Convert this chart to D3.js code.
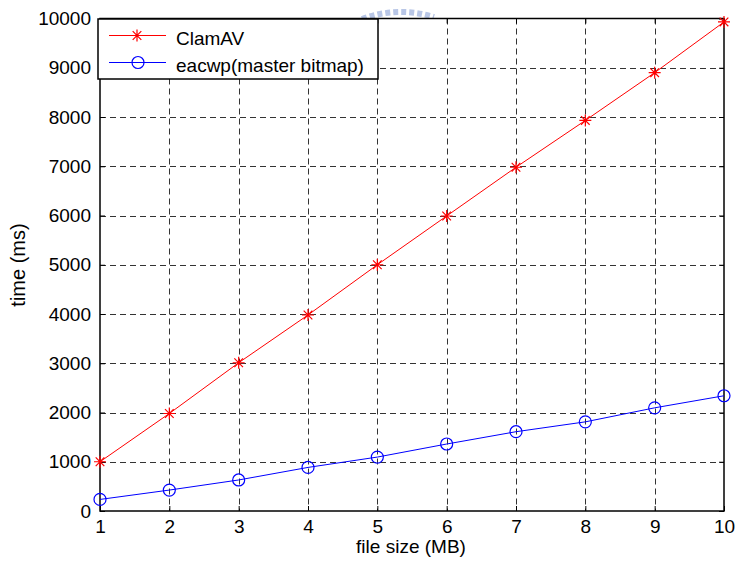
<!DOCTYPE html>
<html>
<head>
<meta charset="utf-8">
<script src="https://cdn.jsdelivr.net/npm/d3@7"></script>
<style>
  body { margin: 0; background: #fff; }
  svg { display: block; }
  text { font-family: "Liberation Sans", Arial, sans-serif; fill: #000; }
</style>
</head>
<body>
<script>
// data
var fileSizes = [1, 2, 3, 4, 5, 6, 7, 8, 9, 10];
var clamav = [1000, 1980, 3010, 3980, 5000, 5990, 6980, 7930, 8900, 9930];
var eacwp = [235, 425, 630, 885, 1095, 1360, 1610, 1810, 2095, 2340];
var yTicks = [0, 1000, 2000, 3000, 4000, 5000, 6000, 7000, 8000, 9000, 10000];
var seriesNames = ['ClamAV', 'eacwp(master bitmap)'];
// end data

var width = 736, height = 565;
var plotLeft = 100, plotRight = 724, plotTop = 18.5, plotBottom = 511;
var fontSize = '19px';

var svg = d3.select('body').append('svg')
    .attr('width', width)
    .attr('height', height);

// faint watermark fragment at the top edge
svg.append('path')
    .attr('d', 'M362,19 Q398,6 434,17')
    .attr('fill', 'none')
    .attr('stroke', '#b8c6e6')
    .attr('stroke-width', 6)
    .attr('stroke-dasharray', '5,3');

var x = d3.scaleLinear().domain([1, 10]).range([plotLeft, plotRight]);
var y = d3.scaleLinear().domain([0, 10000]).range([plotBottom, plotTop]);

// background of plot
svg.append('rect')
    .attr('x', plotLeft).attr('y', plotTop)
    .attr('width', plotRight - plotLeft).attr('height', plotBottom - plotTop)
    .attr('fill', '#fff');

// grid
var gGrid = svg.append('g').attr('class', 'grid');
gGrid.selectAll('line.vx')
    .data(fileSizes.slice(1, -1))
    .enter().append('line')
    .attr('x1', function (d) { return Math.round(x(d)) + 0.5; })
    .attr('x2', function (d) { return Math.round(x(d)) + 0.5; })
    .attr('y1', plotTop).attr('y2', plotBottom)
    .attr('stroke', '#333')
    .attr('stroke-dasharray', '6,4');
gGrid.selectAll('line.hy')
    .data(yTicks.slice(1, -1))
    .enter().append('line')
    .attr('y1', function (d) { return Math.round(y(d)) + 0.5; })
    .attr('y2', function (d) { return Math.round(y(d)) + 0.5; })
    .attr('x1', plotLeft).attr('x2', plotRight)
    .attr('stroke', '#333')
    .attr('stroke-dasharray', '6,4');

// axes
var xAxis = d3.axisBottom(x).tickValues(fileSizes).tickSize(-5).tickPadding(9).tickFormat(d3.format('d'));
var yAxis = d3.axisLeft(y).tickValues(yTicks).tickSize(-5).tickPadding(9).tickFormat(d3.format('d'));
var xAxisTop = d3.axisTop(x).tickValues(fileSizes).tickSize(-5).tickFormat('');
var yAxisRight = d3.axisRight(y).tickValues(yTicks).tickSize(-5).tickFormat('');

function styleAxis(g) {
    g.select('.domain').remove();
    g.selectAll('line').attr('stroke', '#000');
    g.selectAll('text').style('font-size', fontSize).style('font-family', '"Liberation Sans", Arial, sans-serif');
}
svg.append('g').attr('transform', 'translate(0,' + plotBottom + ')').call(xAxis).call(styleAxis);
svg.append('g').attr('transform', 'translate(' + plotLeft + ',0)').call(yAxis).call(styleAxis);
svg.append('g').attr('transform', 'translate(0,' + plotTop + ')').call(xAxisTop).call(styleAxis);
svg.append('g').attr('transform', 'translate(' + plotRight + ',0)').call(yAxisRight).call(styleAxis);

// box
svg.append('rect')
    .attr('x', plotLeft).attr('y', plotTop)
    .attr('width', plotRight - plotLeft).attr('height', plotBottom - plotTop)
    .attr('fill', 'none')
    .attr('stroke', '#000')
    .attr('stroke-width', 1.5);

// lines
var lineFunc = function (vals) {
    return d3.line()
        .x(function (d, i) { return x(fileSizes[i]); })
        .y(function (d) { return y(d); })(vals);
};
svg.append('path')
    .attr('d', lineFunc(clamav))
    .attr('fill', 'none')
    .attr('stroke', '#ff0000')
    .attr('stroke-width', 1);
svg.append('path')
    .attr('d', lineFunc(eacwp))
    .attr('fill', 'none')
    .attr('stroke', '#0000ff')
    .attr('stroke-width', 1);

function star(g, cx, cy, r, color) {
    var a = r * 0.72;
    g.append('path')
        .attr('d', 'M' + (cx - r) + ',' + cy + 'L' + (cx + r) + ',' + cy +
            'M' + cx + ',' + (cy - r) + 'L' + cx + ',' + (cy + r) +
            'M' + (cx - a) + ',' + (cy - a) + 'L' + (cx + a) + ',' + (cy + a) +
            'M' + (cx - a) + ',' + (cy + a) + 'L' + (cx + a) + ',' + (cy - a))
        .attr('stroke', color)
        .attr('stroke-width', 1.2)
        .attr('fill', 'none');
}

var gStars = svg.append('g');
clamav.forEach(function (d, i) { star(gStars, x(fileSizes[i]), y(d), 6, '#ff0000'); });

svg.append('g').selectAll('circle')
    .data(eacwp)
    .enter().append('circle')
    .attr('cx', function (d, i) { return x(fileSizes[i]); })
    .attr('cy', function (d) { return y(d); })
    .attr('r', 6)
    .attr('fill', 'none')
    .attr('stroke', '#0000ff')
    .attr('stroke-width', 1.2);

// legend
var gLegend = svg.append('g');
gLegend.append('rect')
    .attr('x', 98).attr('y', 19)
    .attr('width', 280).attr('height', 60)
    .attr('fill', '#fff')
    .attr('stroke', '#000')
    .attr('stroke-width', 1.5);
var legendColors = ['#ff0000', '#0000ff'];
seriesNames.forEach(function (name, i) {
    var ly = 35.5 + i * 27;
    gLegend.append('line')
        .attr('x1', 109).attr('x2', 166)
        .attr('y1', ly).attr('y2', ly)
        .attr('stroke', legendColors[i]);
    if (i === 0) {
        star(gLegend, 137, ly, 6, legendColors[i]);
    } else {
        gLegend.append('circle')
            .attr('cx', 138).attr('cy', ly).attr('r', 6)
            .attr('fill', 'none').attr('stroke', legendColors[i]).attr('stroke-width', 1.2);
    }
    gLegend.append('text')
        .attr('x', 176).attr('y', ly + 9.5)
        .style('font-size', fontSize)
        .text(name);
});

// axis labels
svg.append('text')
    .attr('x', 411).attr('y', 553)
    .attr('text-anchor', 'middle')
    .style('font-size', fontSize)
    .text('file size (MB)');
svg.append('text')
    .attr('transform', 'translate(25,265) rotate(-90)')
    .attr('text-anchor', 'middle')
    .style('font-size', '20px')
    .text('time (ms)');
</script>
</body>
</html>
